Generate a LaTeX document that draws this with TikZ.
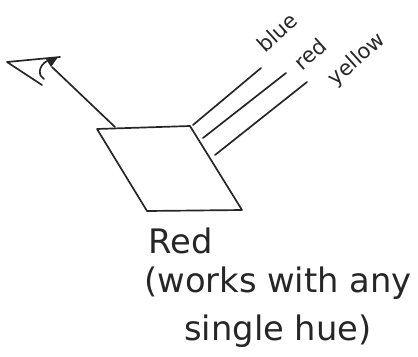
\documentclass[tikz,border=0pt]{standalone}
\usepackage{fontspec}
\setmainfont{DejaVu Sans}
\begin{document}
\begin{tikzpicture}[x=0.025cm,y=-0.025cm,line width=1.2pt,color={black!85},
  line join=round,line cap=round,
  huelabel/.style={font=\fontsize{15}{18}\selectfont,rotate=42,inner sep=0pt},
  notelabel/.style={font=\fontsize{24}{34}\selectfont,inner sep=0pt}]
\useasboundingbox (0,0) rectangle (418,356);

% the eye
\coordinate (eyetip) at (7,62);
\coordinate (eyetop) at (60,57);
\coordinate (eyelow) at (42,85);
\coordinate (eyeout) at (52,67);
\draw (eyetop) -- (eyetip) -- (eyelow);
\draw (47,61) .. controls (38,66) and (38,76) .. (44,79);
\fill (46,59) -- (58,57) -- (51,67) -- cycle;

% the surface
\coordinate (tl) at (97,129);
\coordinate (tr) at (190,126);
\coordinate (br) at (242,210);
\coordinate (bl) at (147,211);
\coordinate (seen) at (115,127);
\draw (tl) -- (tr) -- (br) -- (bl) -- cycle;
\draw (seen) -- (eyeout);

% the three lights
\coordinate (blueA) at (193,125);
\coordinate (blueB) at (261,68);
\coordinate (redA) at (203,138);
\coordinate (redB) at (286,73);
\coordinate (yellowA) at (215,155);
\coordinate (yellowB) at (307,82);
\draw (blueA) -- (blueB);
\draw (redA) -- (redB);
\draw (yellowA) -- (yellowB);

\node[huelabel] (blue) at (277,32) {blue};
\node[huelabel] (red) at (310,54) {red};
\node[huelabel] (yellow) at (357,60) {yellow};

% what is seen
\node[notelabel,anchor=base west] (result) at (148,253) {Red};
\node[notelabel,align=center,anchor=north] (note) at (278,266) {(works with any\\single hue)};

\end{tikzpicture}
\end{document}
